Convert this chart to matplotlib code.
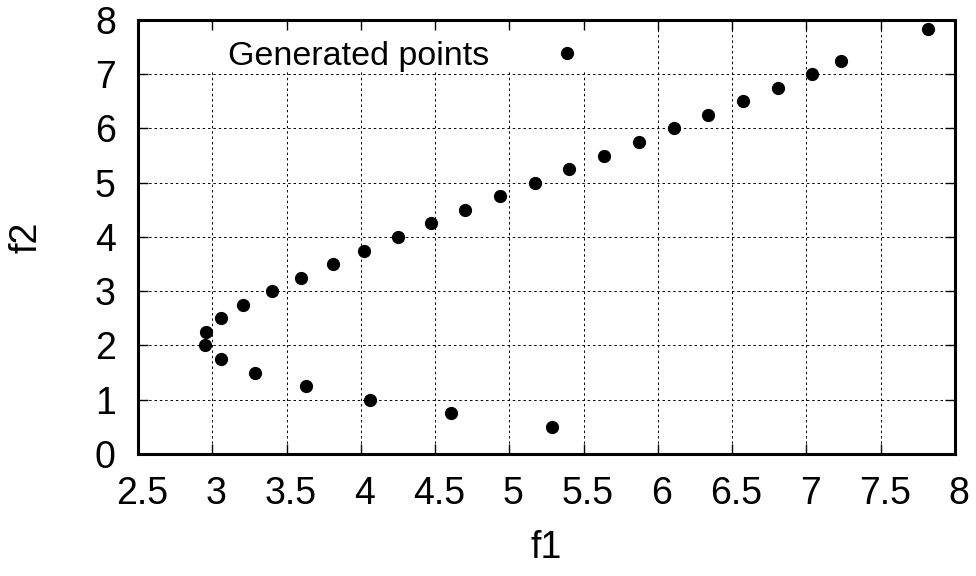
import matplotlib
matplotlib.use("Agg")
import matplotlib.pyplot as plt
import matplotlib.transforms as mtransforms
from matplotlib.patches import Rectangle

plt.rcParams['font.family'] = ['Liberation Sans', 'DejaVu Sans']

# points (lower branch then upper branch)
f1 = [5.29, 4.61, 4.06, 3.63, 3.29, 3.06, 2.95,
      2.96, 3.06, 3.21, 3.40, 3.60, 3.81, 4.02, 4.25, 4.47, 4.70, 4.94,
      5.17, 5.40, 5.64, 5.87, 6.11, 6.34, 6.57, 6.81, 7.04, 7.23, 7.82]
f2 = [0.5, 0.75, 1.0, 1.25, 1.5, 1.75, 2.0,
      2.25, 2.5, 2.75, 3.0, 3.25, 3.5, 3.75, 4.0, 4.25, 4.5, 4.75,
      5.0, 5.25, 5.5, 5.75, 6.0, 6.25, 6.5, 6.75, 7.0, 7.25, 7.83]

xticks = [2.5, 3, 3.5, 4, 4.5, 5, 5.5, 6, 6.5, 7, 7.5, 8]
xtick_labels = ['2.5', '3', '3.5', '4', '4.5', '5', '5.5', '6', '6.5', '7', '7.5', '8']
yticks = [0, 1, 2, 3, 4, 5, 6, 7, 8]

fig = plt.figure(figsize=(9.76, 5.76), dpi=100)
ax = fig.add_axes([0.1414, 0.2118, 0.8371, 0.7535])

ax.plot(f1, f2, 'o', color='black', markersize=8.5, linestyle='none',
        label='Generated points', zorder=3)

ax.set_xlim(2.5, 8)
ax.set_ylim(0, 8)
ax.set_xticks(xticks)
ax.set_xticklabels(xtick_labels)
ax.set_yticks(yticks)

# gnuplot style grid, drawn by hand so the key can sit over it
grid_style = dict(color='black', linestyle=(0, (2.5, 3)), linewidth=0.7, zorder=1)
for x in xticks[1:-1]:
    ax.axvline(x, **grid_style)
for y in yticks[1:-1]:
    ax.axhline(y, **grid_style)

# opaque key area (hides the grid but not the ticks)
ax.add_patch(Rectangle((0.066, 0.885), 0.53, 0.115, transform=ax.transAxes,
                       facecolor='white', edgecolor='none', zorder=1.5))

for s in ax.spines.values():
    s.set_linewidth(2.2)

ax.tick_params(direction='in', length=7, width=1, top=True, right=True,
               labelsize=27, pad=16)

# gnuplot puts x labels a little right of the tick
offset = mtransforms.ScaledTranslation(4 / 100, 0, fig.dpi_scale_trans)
for lab in ax.get_xticklabels():
    lab.set_transform(lab.get_transform() + offset)

ax.set_xlabel('f1', fontsize=27)
ax.set_ylabel('f2', fontsize=27)
ax.xaxis.set_label_coords(0.5, -0.217)
ax.xaxis.label.set_va('center')
ax.yaxis.set_label_coords(-0.136, 0.5)
ax.yaxis.label.set_va('center')

leg = ax.legend(loc='center left', bbox_to_anchor=(0.110, 0.915),
                markerfirst=False, fontsize=24.5, frameon=False,
                handlelength=1.0, handletextpad=1.8, borderpad=0,
                borderaxespad=0)

fig.savefig('out.png', dpi=100, facecolor='white')
